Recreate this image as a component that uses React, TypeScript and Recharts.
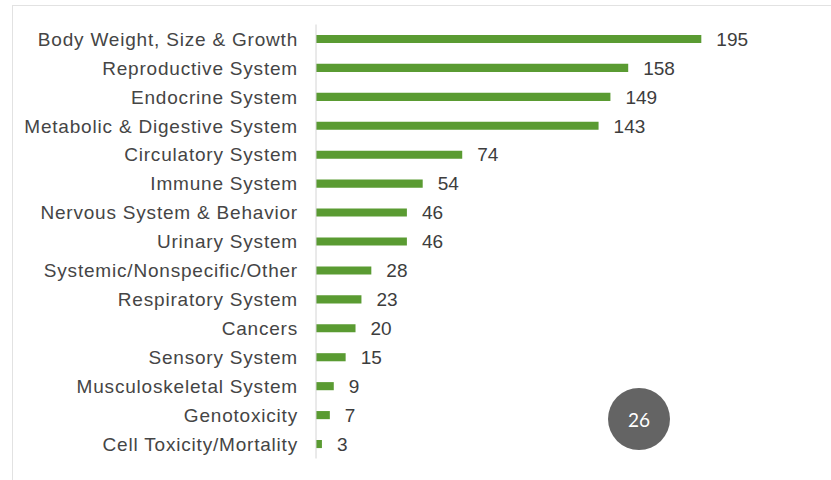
import React from 'react';
import { BarChart, Bar, XAxis, YAxis, LabelList } from 'recharts';

const categories = [
  'Body Weight, Size & Growth',
  'Reproductive System',
  'Endocrine System',
  'Metabolic & Digestive System',
  'Circulatory System',
  'Immune System',
  'Nervous System & Behavior',
  'Urinary System',
  'Systemic/Nonspecific/Other',
  'Respiratory System ',
  'Cancers',
  'Sensory System',
  'Musculoskeletal System',
  'Genotoxicity',
  'Cell Toxicity/Mortality',
];
const counts = [195, 158, 149, 143, 74, 54, 46, 46, 28, 23, 20, 15, 9, 7, 3];
const pageNumber = '26';

const data = categories.map((name, i) => ({ name, value: counts[i] }));

export default function App() {
  return (
    <div style={{ position: 'absolute', left: 0, top: 0, width: 831, height: 480, background: '#fff', overflow: 'hidden' }}>
      <div
        style={{
          position: 'absolute',
          left: 12,
          top: 5,
          width: 840,
          height: 490,
          borderLeft: '1px solid #e2e2e2',
          borderTop: '1px solid #e2e2e2',
        }}
      />
      <div style={{ position: 'absolute', left: 0, top: 0 }}>
        <BarChart
          width={831}
          height={480}
          data={data}
          layout="vertical"
          margin={{ top: 24.5, right: 21, bottom: 21.5, left: 0 }}
          barCategoryGap="64%"
        >
          <XAxis type="number" domain={[0, 250]} hide />
          <YAxis
            type="category"
            dataKey="name"
            width={316}
            axisLine={{ stroke: '#d4d4d4', strokeWidth: 1 }}
            tickLine={false}
            tickSize={6}
            tickMargin={12}
            interval={0}
            tick={{ fill: '#454545', fontSize: 19, letterSpacing: 0.8, fontFamily: 'Liberation Sans, Arial, sans-serif' }}
          />
          <Bar dataKey="value" fill="#5a9b32" isAnimationActive={false}>
            <LabelList
              dataKey="value"
              position="right"
              offset={15}
              fill="#3d3d3d"
              fontSize={19}
              fontFamily="Liberation Sans, Arial, sans-serif"
            />
          </Bar>
        </BarChart>
      </div>
      <div
        style={{
          position: 'absolute',
          left: 639 - 31,
          top: 419 - 31,
          width: 62,
          height: 62,
          borderRadius: '50%',
          background: '#646464',
          color: '#fff',
          fontFamily: 'Lato, sans-serif',
          fontSize: 19,
          display: 'flex',
          alignItems: 'center',
          justifyContent: 'center',
        }}
      >
        {pageNumber}
      </div>
    </div>
  );
}
